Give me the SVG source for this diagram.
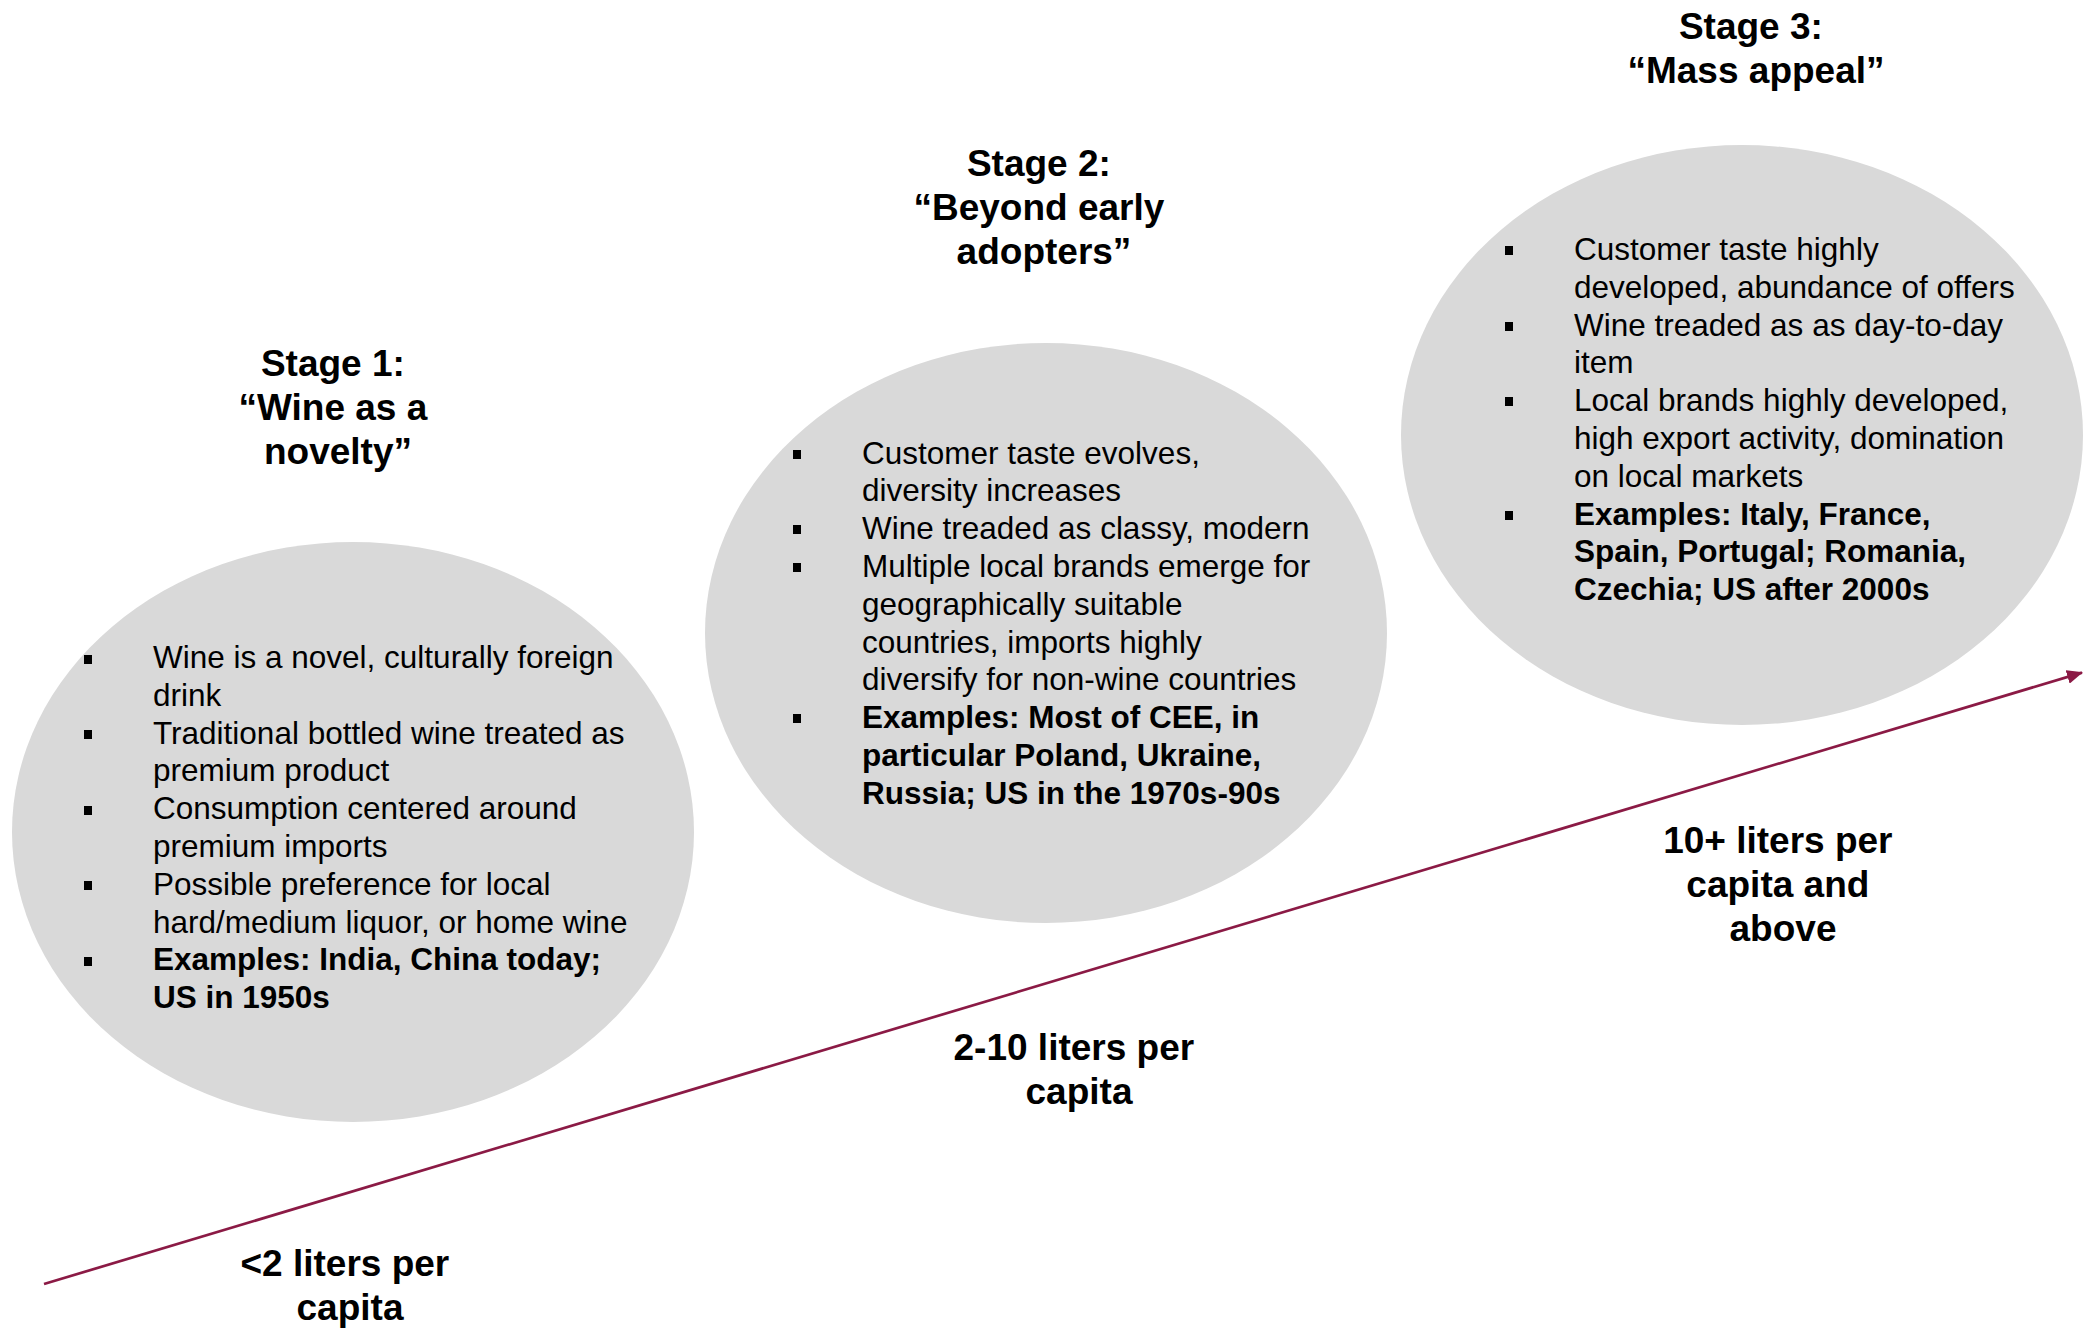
<svg xmlns="http://www.w3.org/2000/svg" width="2095" height="1329" viewBox="0 0 2095 1329">
<style>
  .bg { fill: #ffffff; }
  .ell { fill: #D9D9D9; stroke: none; }
  .title { font-family: "Liberation Sans", Arial, sans-serif; font-size: 37px; font-weight: bold; fill: #000000; text-anchor: middle; }
  .body { font-family: "Liberation Sans", Arial, sans-serif; font-size: 31.5px; fill: #000000; }
  .b { font-weight: bold; }
  .bul { fill: #000000; }
  .arrow { stroke: #8B1A45; stroke-width: 2.7; fill: none; }
</style>
<defs>
  <marker id="head" viewBox="0 0 16 14" refX="15" refY="7" markerWidth="16" markerHeight="14" markerUnits="userSpaceOnUse" orient="auto">
    <path d="M0,0 L16,7 L0,14 z" fill="#8B1A45"/>
  </marker>
</defs>
<rect class="bg" x="0" y="0" width="2095" height="1329"/>

<g id="stage1">
  <ellipse class="ell" cx="353" cy="832" rx="341" ry="290"/>
  <text class="title">
    <tspan x="338" y="376">Stage 1:</tspan>
    <tspan x="338" y="420">“Wine as a</tspan>
    <tspan x="338" y="464">novelty”</tspan>
  </text>
  <rect class="bul" x="84" y="655" width="8" height="9"/>
  <rect class="bul" x="84" y="730" width="8" height="9"/>
  <rect class="bul" x="84" y="806" width="8" height="9"/>
  <rect class="bul" x="84" y="881" width="8" height="9"/>
  <rect class="bul" x="84" y="957" width="8" height="9"/>
  <text class="body">
    <tspan x="153" y="668">Wine is a novel, culturally foreign</tspan>
    <tspan x="153" y="705.8">drink</tspan>
    <tspan x="153" y="743.6">Traditional bottled wine treated as</tspan>
    <tspan x="153" y="781.4">premium product</tspan>
    <tspan x="153" y="819.2">Consumption centered around</tspan>
    <tspan x="153" y="857">premium imports</tspan>
    <tspan x="153" y="894.8">Possible preference for local</tspan>
    <tspan x="153" y="932.6">hard/medium liquor, or home wine</tspan>
    <tspan class="b" x="153" y="970.4">Examples: India, China today;</tspan>
    <tspan class="b" x="153" y="1008.2">US in 1950s</tspan>
  </text>
</g>

<g id="stage2">
  <ellipse class="ell" cx="1046" cy="633" rx="341" ry="290"/>
  <text class="title">
    <tspan x="1044" y="176">Stage 2:</tspan>
    <tspan x="1044" y="220">“Beyond early</tspan>
    <tspan x="1044" y="264">adopters”</tspan>
  </text>
  <rect class="bul" x="793" y="450" width="8" height="9"/>
  <rect class="bul" x="793" y="525" width="8" height="9"/>
  <rect class="bul" x="793" y="563" width="8" height="9"/>
  <rect class="bul" x="793" y="714" width="8" height="9"/>
  <text class="body">
    <tspan x="862" y="463.5">Customer taste evolves,</tspan>
    <tspan x="862" y="501.3">diversity increases</tspan>
    <tspan x="862" y="539.1">Wine treaded as classy, modern</tspan>
    <tspan x="862" y="576.9">Multiple local brands emerge for</tspan>
    <tspan x="862" y="614.7">geographically suitable</tspan>
    <tspan x="862" y="652.5">countries, imports highly</tspan>
    <tspan x="862" y="690.3">diversify for non-wine countries</tspan>
    <tspan class="b" x="862" y="728.1">Examples: Most of CEE, in</tspan>
    <tspan class="b" x="862" y="765.9">particular Poland, Ukraine,</tspan>
    <tspan class="b" x="862" y="803.7">Russia; US in the 1970s-90s</tspan>
  </text>
</g>

<g id="stage3">
  <ellipse class="ell" cx="1742" cy="435" rx="341" ry="290"/>
  <text class="title">
    <tspan x="1756" y="39">Stage 3:</tspan>
    <tspan x="1756" y="83">“Mass appeal”</tspan>
  </text>
  <rect class="bul" x="1505" y="246" width="8" height="9"/>
  <rect class="bul" x="1505" y="322" width="8" height="9"/>
  <rect class="bul" x="1505" y="397" width="8" height="9"/>
  <rect class="bul" x="1505" y="511" width="8" height="9"/>
  <text class="body">
    <tspan x="1574" y="260">Customer taste highly</tspan>
    <tspan x="1574" y="297.8">developed, abundance of offers</tspan>
    <tspan x="1574" y="335.6">Wine treaded as as day-to-day</tspan>
    <tspan x="1574" y="373.4">item</tspan>
    <tspan x="1574" y="411.2">Local brands highly developed,</tspan>
    <tspan x="1574" y="449">high export activity, domination</tspan>
    <tspan x="1574" y="486.8">on local markets</tspan>
    <tspan class="b" x="1574" y="524.6">Examples: Italy, France,</tspan>
    <tspan class="b" x="1574" y="562.4">Spain, Portugal; Romania,</tspan>
    <tspan class="b" x="1574" y="600.2">Czechia; US after 2000s</tspan>
  </text>
</g>

<g id="label-low">
  <text class="title">
    <tspan x="350" y="1276">&lt;2 liters per</tspan>
    <tspan x="350" y="1320">capita</tspan>
  </text>
</g>
<g id="label-mid">
  <text class="title">
    <tspan x="1079" y="1060">2-10 liters per</tspan>
    <tspan x="1079" y="1104">capita</tspan>
  </text>
</g>
<g id="label-high">
  <text class="title">
    <tspan x="1783" y="853">10+ liters per</tspan>
    <tspan x="1783" y="897">capita and</tspan>
    <tspan x="1783" y="941">above</tspan>
  </text>
</g>

<g id="connectors">
  <line class="arrow" x1="44" y1="1284" x2="2082" y2="672.6" marker-end="url(#head)"/>
</g>
</svg>
